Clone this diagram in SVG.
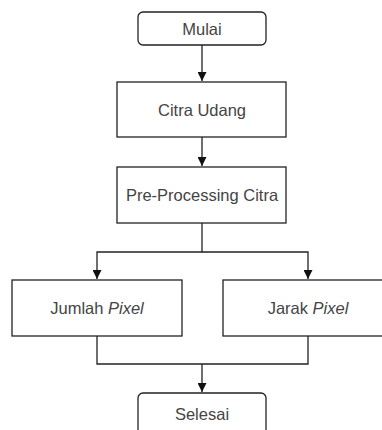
<svg xmlns="http://www.w3.org/2000/svg" width="382" height="430" viewBox="0 0 382 430">
<defs>
<style>
.box{fill:#fff;stroke:#222;stroke-width:1.3}
.lbl{font-family:"Liberation Sans",Arial,sans-serif;font-size:16.5px;fill:#444;text-anchor:middle}
.edge{fill:none;stroke:#222;stroke-width:1.3}
</style>
<marker id="arr" viewBox="0 0 10 10" refX="10" refY="5" markerWidth="9" markerHeight="9" markerUnits="userSpaceOnUse" orient="auto">
<path d="M0,0 L10,5 L0,10 z" fill="#111"/>
</marker>
</defs>
<rect width="382" height="430" fill="#fff"/>
<g id="connectors">
<path class="edge" d="M202,45 V81" marker-end="url(#arr)"/>
<path class="edge" d="M202,137 V166" marker-end="url(#arr)"/>
<path class="edge" d="M202,223 V252 H97 V279" marker-end="url(#arr)"/>
<path class="edge" d="M202,252 H308 V279" marker-end="url(#arr)"/>
<path class="edge" d="M97,336 V364 H308 V336"/>
<path class="edge" d="M202,364 V392" marker-end="url(#arr)"/>
</g>
<g id="mulai">
<rect class="box" x="138" y="12" width="128" height="33" rx="5"/>
<text class="lbl" x="202" y="34.5">Mulai</text>
</g>
<g id="citra-udang">
<rect class="box" x="117" y="82" width="169" height="55"/>
<text class="lbl" x="202" y="115.5">Citra Udang</text>
</g>
<g id="preprocessing">
<rect class="box" x="117" y="167" width="169" height="56"/>
<text class="lbl" x="202" y="201">Pre-Processing Citra</text>
</g>
<g id="jumlah-pixel">
<rect class="box" x="12" y="280" width="170" height="56"/>
<text class="lbl" x="97" y="314">Jumlah <tspan font-style="italic">Pixel</tspan></text>
</g>
<g id="jarak-pixel">
<rect class="box" x="223" y="280" width="170" height="56"/>
<text class="lbl" x="308" y="314">Jarak <tspan font-style="italic">Pixel</tspan></text>
</g>
<g id="selesai">
<rect class="box" x="138" y="393" width="128" height="45" rx="5"/>
<text class="lbl" x="202" y="420">Selesai</text>
</g>
</svg>
